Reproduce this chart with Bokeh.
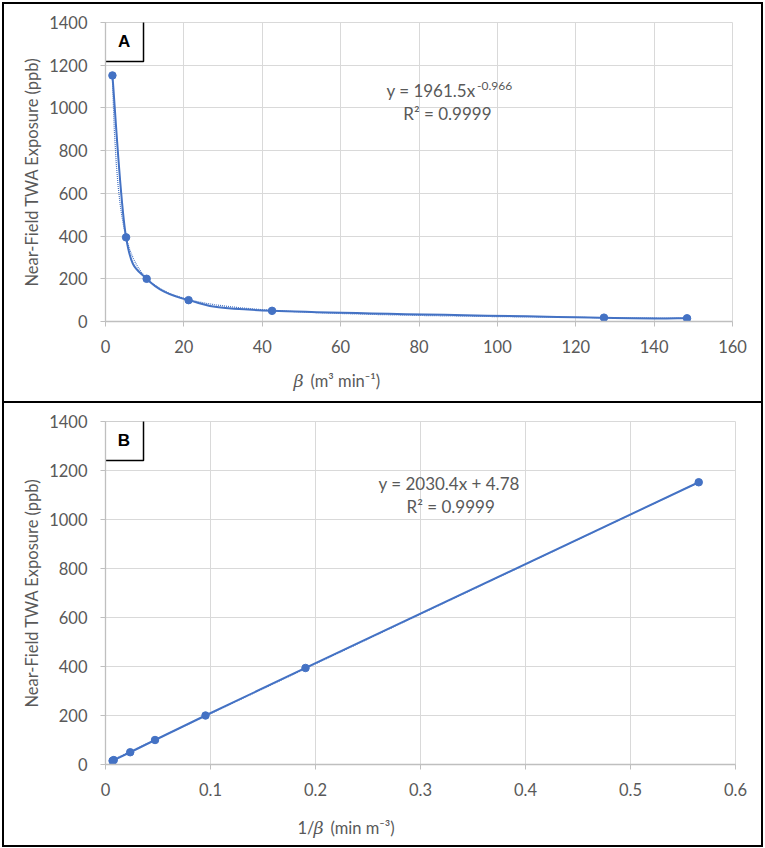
import numpy as np
from bokeh.plotting import figure
from bokeh.layouts import column
from bokeh.models import Label, FixedTicker, Range1d, ColumnDataSource
from bokeh.embed import file_html
from bokeh.resources import INLINE

# ---------------- data ----------------
beta = [1.77, 5.25, 10.5, 21.2, 42.5, 127.2, 148.4]          # m3 min-1
exposure = [1152, 394, 200, 100, 50, 18, 15]                  # ppb
inv_beta = [1.0 / b for b in beta]                            # min m-3

power_a, power_b = 1961.5, -0.966      # y = a x^b  (panel A trendline)
lin_m, lin_c = 2030.4, 4.78            # y = m x + c (panel B trendline)

xticks_a = [0, 20, 40, 60, 80, 100, 120, 140, 160]
xticks_b = [0, 0.1, 0.2, 0.3, 0.4, 0.5, 0.6]
xtick_labels_b = ["0", "0.1", "0.2", "0.3", "0.4", "0.5", "0.6"]
yticks = [0, 200, 400, 600, 800, 1000, 1200, 1400]

BLUE = "#4472C4"
TXT = "#595959"
FONT = "Lato"
W = 757


def style(p):
    p.xgrid.grid_line_color = "#d9d9d9"
    p.ygrid.grid_line_color = "#d9d9d9"
    p.outline_line_color = "#d9d9d9"
    p.background_fill_color = "white"
    p.border_fill_color = "white"
    for ax in (p.xaxis[0], p.yaxis[0]):
        ax.axis_line_color = "#bfbfbf"
        ax.axis_line_width = 1.3
        ax.major_tick_line_color = "#bfbfbf"
        ax.major_tick_in = 0
        ax.major_tick_out = 5
        ax.minor_tick_line_color = None
        ax.major_label_text_color = TXT
        ax.major_label_text_font = FONT
        ax.major_label_text_font_size = "16.5px"
    p.yaxis[0].ticker = FixedTicker(ticks=yticks)
    p.yaxis[0].major_label_standoff = 13
    p.xaxis[0].major_label_standoff = 13
    p.yaxis[0].axis_label = "Near-Field TWA Exposure (ppb)"
    p.yaxis[0].axis_label_text_font = FONT
    p.yaxis[0].axis_label_text_font_size = "16.5px"
    p.yaxis[0].axis_label_text_font_style = "normal"
    p.yaxis[0].axis_label_text_color = TXT
    p.yaxis[0].axis_label_standoff = 4


def panel_letter(p, letter, x0, x1, y0, y1):
    p.quad(left=[x0], right=[x1], bottom=[y0], top=[y1],
           fill_color="white", line_color="black", line_width=1.5)
    p.add_layout(Label(x=(x0 + x1) / 2, y=(y0 + y1) / 2, text=letter,
                       text_font="Liberation Sans", text_font_style="bold",
                       text_font_size="17px", text_align="center",
                       text_baseline="middle", text_color="black"))


def lbl(p, x, y, text, size="17px", style_="normal", font=FONT, color=TXT,
        x_units="data"):
    p.add_layout(Label(x=x, y=y, x_units=x_units, text=text, text_font=font,
                       text_font_size=size, text_font_style=style_,
                       text_color=color, text_align="left",
                       text_baseline="middle"))


def label_strip(height):
    # a thin figure holding an axis title (mixed italic / upright text)
    s = figure(width=W, height=height, x_range=Range1d(0, W),
               y_range=Range1d(0, height), x_axis_type=None, y_axis_type=None,
               min_border=0, output_backend="svg", toolbar_location=None)
    s.grid.visible = False
    s.outline_line_color = None
    s.background_fill_color = "white"
    s.border_fill_color = "white"
    return s


def smooth_segments(xs, ys):
    # Bezier control points (Catmull-Rom style) so the connecting line is smoothed
    n = len(xs)
    P = list(zip(xs, ys))
    out = dict(x0=[], y0=[], x1=[], y1=[], cx0=[], cy0=[], cx1=[], cy1=[])
    for i in range(n - 1):
        p0 = P[i - 1] if i > 0 else P[i]
        p1, p2 = P[i], P[i + 1]
        p3 = P[i + 2] if i + 2 < n else P[i + 1]
        out["x0"].append(p1[0]); out["y0"].append(p1[1])
        out["x1"].append(p2[0]); out["y1"].append(p2[1])
        out["cx0"].append(p1[0] + (p2[0] - p0[0]) / 6)
        out["cy0"].append(p1[1] + (p2[1] - p0[1]) / 6)
        out["cx1"].append(p2[0] - (p3[0] - p1[0]) / 6)
        out["cy1"].append(p2[1] - (p3[1] - p1[1]) / 6)
    return ColumnDataSource(out)


# ---------------- panel A ----------------
pA = figure(frame_width=627, frame_height=299,
            min_border_left=101, min_border_right=29,
            min_border_top=18, min_border_bottom=45,
            x_range=Range1d(0, 160), y_range=Range1d(0, 1400),
            output_backend="svg", toolbar_location=None)
style(pA)
pA.xaxis[0].ticker = FixedTicker(ticks=xticks_a)

srcA = ColumnDataSource(dict(x=beta, y=exposure))
xa = np.linspace(min(beta), max(beta), 300)
pA.line(xa, power_a * xa ** power_b, line_color=BLUE, line_width=1.2,
        line_dash="1 1")
pA.bezier(x0="x0", y0="y0", x1="x1", y1="y1", cx0="cx0", cy0="cy0",
          cx1="cx1", cy1="cy1", source=smooth_segments(beta, exposure),
          line_color=BLUE, line_width=2)
pA.scatter("x", "y", source=srcA, size=7.5, fill_color=BLUE,
           line_color=BLUE)

panel_letter(pA, "A", -0.25, 9.7, 1217, 1405)
lbl(pA, 71.7, 1080, "y = 1961.5x")
lbl(pA, 94.8, 1102, "-0.966", size="12px")
lbl(pA, 76.0, 974, "R² = 0.9999")

sA = label_strip(35)
lbl(sA, 289, 21, "β", size="17.5px", style_="italic", font="DejaVu Serif",
    x_units="canvas")
lbl(sA, 306, 21, "(m³ min⁻¹)", size="16.5px", x_units="canvas")

# ---------------- panel B ----------------
pB = figure(frame_width=630, frame_height=343,
            min_border_left=101, min_border_right=26,
            min_border_top=18, min_border_bottom=45,
            x_range=Range1d(0, 0.6), y_range=Range1d(0, 1400),
            output_backend="svg", toolbar_location=None)
style(pB)
pB.xaxis[0].ticker = FixedTicker(ticks=xticks_b)
pB.xaxis[0].major_label_overrides = {t: s for t, s in zip(xticks_b, xtick_labels_b)}

srcB = ColumnDataSource(dict(x=inv_beta, y=exposure))
xb = np.array([min(inv_beta), max(inv_beta)])
pB.line(xb, lin_m * xb + lin_c, line_color=BLUE, line_width=1.2,
        line_dash="1 1")
pB.line("x", "y", source=srcB, line_color=BLUE, line_width=2)
pB.scatter("x", "y", source=srcB, size=7.5, fill_color=BLUE,
           line_color=BLUE)

panel_letter(pB, "B", -0.001, 0.0362, 1241, 1404)
lbl(pB, 0.260, 1147, "y = 2030.4x + 4.78")
lbl(pB, 0.2867, 1053, "R² = 0.9999")

sB = label_strip(36)
lbl(sB, 293, 18, "1/", size="16.5px", x_units="canvas")
lbl(sB, 309, 18, "β", size="17.5px", style_="italic", font="DejaVu Serif",
    x_units="canvas")
lbl(sB, 326, 18, "(min m⁻³)", size="16.5px", x_units="canvas")

boxA = column(pA, sA, spacing=0, styles={"border": "2px solid black"})
boxB = column(pB, sB, spacing=0,
              styles={"border": "2px solid black", "border-top": "none"})
layout = column(boxA, boxB, spacing=0,
                styles={"margin-left": "2px", "margin-top": "2px"})
open("out.html", "w").write(file_html(layout, INLINE))
